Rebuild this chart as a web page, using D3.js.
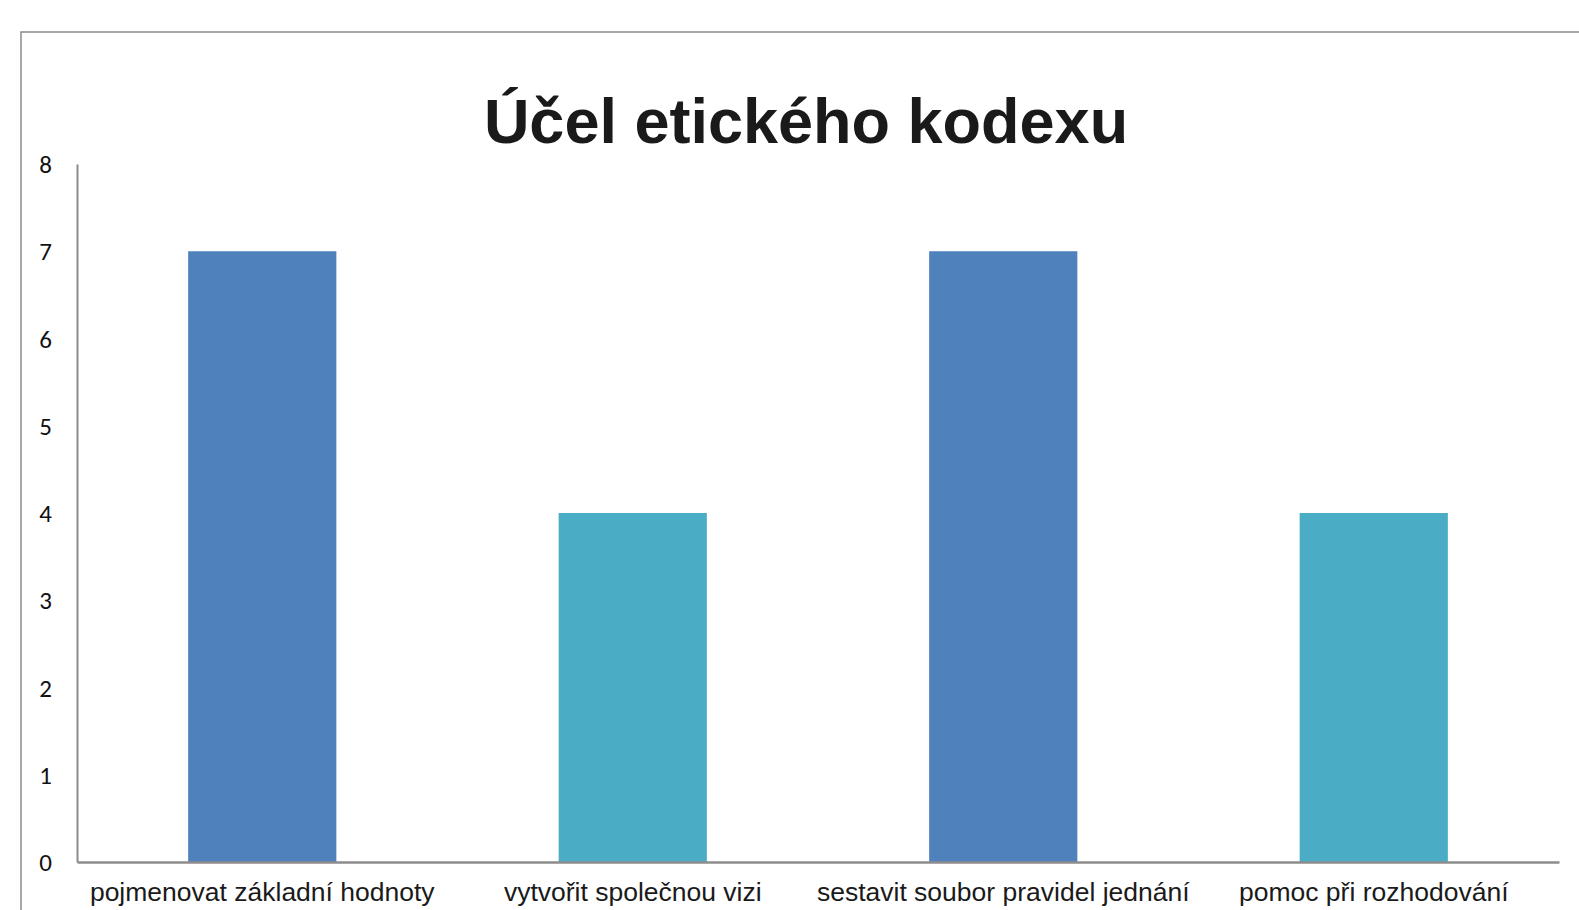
<!DOCTYPE html>
<html>
<head>
<meta charset="utf-8">
<script src="https://cdn.jsdelivr.net/npm/d3@7"></script>
<style>
  body { margin: 0; background: #fff; overflow: hidden; }
  .tick-label { font-family: Carlito, Lato, "Open Sans", sans-serif; font-size: 25px; fill: #111; }
  .cat-label { font-family: "Liberation Sans", Arial, sans-serif; font-size: 26.5px; fill: #1a1a1a; }
  .title { font-family: "Liberation Sans", Arial, sans-serif; font-weight: bold; font-size: 63px; fill: #1a1a1a; }
</style>
</head>
<body>
<div id="chart"></div>
<script>
var categories = ["pojmenovat základní hodnoty", "vytvořit společnou vizi", "sestavit soubor pravidel jednání", "pomoc při rozhodování"];
var values = [7, 4, 7, 4];
var yTicks = [0, 1, 2, 3, 4, 5, 6, 7, 8];
var barColors = ["#4f81bd", "#4bacc6"];
var title = "Účel etického kodexu";

var width = 1579, height = 910;
var margin = {left: 77, right: 20, top: 164, bottom: 48};

var svg = d3.select("#chart")
    .append("svg")
    .attr("width", width)
    .attr("height", height);

// chart area frame (runs off the right and bottom edge)
svg.append("rect")
    .attr("x", 21)
    .attr("y", 32)
    .attr("width", width)
    .attr("height", height)
    .attr("fill", "none")
    .attr("stroke", "#8c8c8c")
    .attr("stroke-width", 1.5);

var x = d3.scaleBand()
    .domain(categories)
    .range([margin.left, width - margin.right])
    .paddingInner(0.6)
    .paddingOuter(0.3);

var y = d3.scaleLinear()
    .domain([0, 8])
    .range([height - margin.bottom, margin.top]);

svg.append("text")
    .attr("class", "title")
    .attr("x", 806)
    .attr("y", 143)
    .attr("text-anchor", "middle")
    .text(title);

svg.selectAll("rect.bar")
    .data(values)
    .enter()
    .append("rect")
    .attr("class", "bar")
    .attr("x", function(d, i) { return x(categories[i]); })
    .attr("y", function(d) { return y(d); })
    .attr("width", x.bandwidth())
    .attr("height", function(d) { return y(0) - y(d); })
    .attr("fill", function(d, i) { return barColors[i % 2]; });

// y axis
var yAxis = svg.append("g")
    .attr("transform", "translate(" + margin.left + ",0)")
    .call(d3.axisLeft(y).tickValues(yTicks).tickSize(0).tickPadding(25).tickFormat(d3.format("d")));
yAxis.select(".domain").attr("stroke", "#8c8c8c").attr("stroke-width", 2);
yAxis.selectAll("text")
    .attr("class", "tick-label")
    .attr("dy", "0.34em")
    .attr("fill", null);

// x axis
var xAxis = svg.append("g")
    .attr("transform", "translate(0," + y(0) + ")")
    .call(d3.axisBottom(x).tickSize(0).tickPadding(20));
xAxis.select(".domain").attr("stroke", "#8c8c8c").attr("stroke-width", 2.5);
xAxis.selectAll("text")
    .attr("class", "cat-label")
    .attr("fill", null);
</script>
</body>
</html>
